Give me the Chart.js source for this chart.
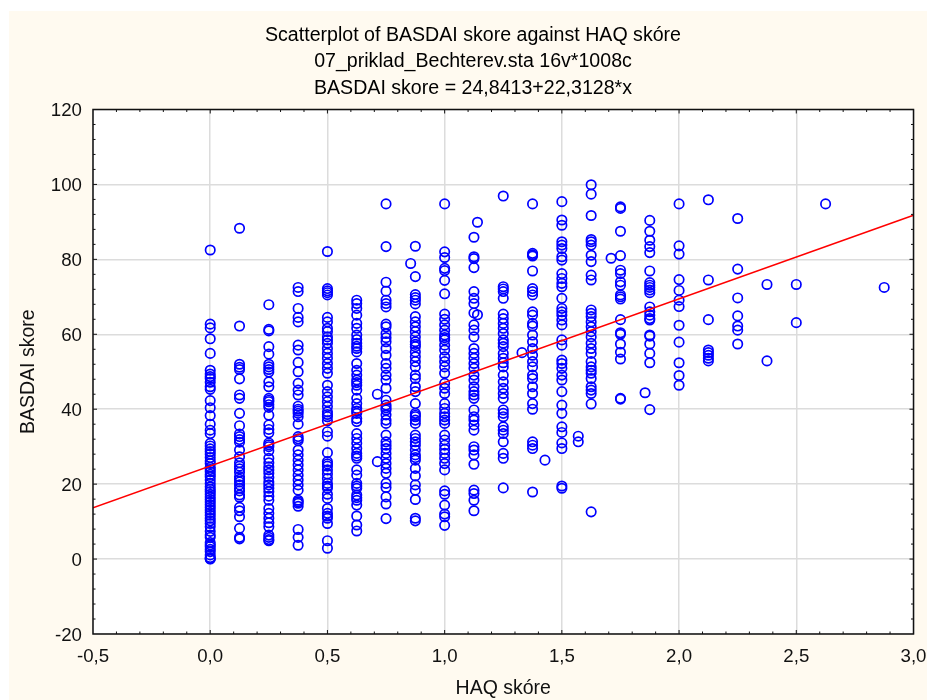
<!DOCTYPE html>
<html>
<head>
<meta charset="utf-8">
<title>Scatterplot of BASDAI skore against HAQ skóre</title>
<script src="https://cdn.jsdelivr.net/npm/chart.js@4"></script>
<style>
	html, body { margin: 0; padding: 0; background: #fff; }
	canvas { display: block; }
</style>
</head>
<body>
<canvas id="chart" width="927" height="700"></canvas>
<script>
const titleLines = [
	'Scatterplot of BASDAI skore against HAQ skóre',
	'07_priklad_Bechterev.sta 16v*1008c',
	'BASDAI skore = 24,8413+22,3128*x'
];

// BASDAI readings, one list per HAQ level
const haq0000 = [82.5,62.7,61.7,58.8,54.9,50.4,49.4,48.7,48.2,47.2,46,45.3,42.3,40.4,38.3,36,34.4,33.5,30.9,30.2,29.4,28.7,28,27.1,26.2,25.5,24.5,23.9,23.3,22.6,22,21.1,20.2,19.3,18.6,18,17.3,16.6,15.9,15.2,14.5,13.8,13.1,12.4,11.7,10.9,10.2,9.5,8.6,7.4,6.4,5.8,4.4,3.8,3.3,2.6,2,1.1,0.4,0.1,0];
const haq0125 = [88.3,62.2,52,51.2,50.6,48.1,43.8,42.9,38.9,35.6,33.4,32.7,31.9,31.2,29.1,27.3,25.7,24.8,24.1,23.2,22,21.3,20.6,19.8,18.9,18.2,17.1,16.5,13.8,12.9,11.3,8.2,5.8,5.4];
const haq0250 = [67.9,61.3,60.9,56.7,54.7,52,51.3,50.6,49.9,47.3,46,42.9,42.4,42,41.2,40.5,38.4,35.8,34.6,33.7,31,30.5,30,28.9,26.9,25.7,24.6,23.8,22.9,21.8,20.6,19.8,18.9,18,16.8,15.7,13.5,12.2,10.9,9.7,8.6,6.4,5.8,5.2,4.9];
const haq0375 = [72.5,71.4,66.9,64.5,63.3,57.1,55.8,52.5,50,46.9,45.1,43.8,40.8,40,39.5,38.9,38,36,32.7,32.1,31.6,29.1,27.8,26.4,25.1,23.8,22.4,21.1,19.8,18.4,15.7,15.3,14.9,14.1,7.9,5.8,3.7];
const haq0500 = [82.1,72.2,71.6,71.1,70.5,64.5,63.3,61.6,60.7,59.3,58.5,57.6,56.2,54.9,53.6,52.2,50.9,49.6,46.4,44.7,43.3,42,40.7,39.3,38.6,38,36.9,34,32.8,28.4,26,25.4,24.8,23.8,22.7,21.5,20.2,19.5,18.9,17.3,16.2,13.5,12.2,11.5,10.9,9.5,4.9,2.9];
const haq0625 = [69.1,68.2,66.9,65.1,62.9,61.6,59.8,58.6,57.6,56.8,56.2,55.3,52.2,50.4,49.1,47.8,47.1,46.4,45.1,42.9,41.5,40.2,39.5,38.9,37.5,36.7,33.5,32.2,30.9,29.5,28.2,27.5,26.9,23.8,22.4,20.2,19.5,18.9,17.1,16.4,15.7,14.4,11.5,9.1,7.5];
const haq0750 = [94.8,83.4,73.9,71.5,69.1,68.2,67.3,62.7,62,60.2,59.1,58,56.2,54.4,52.2,50.9,49.1,47.8,45.6,42.4,41.1,40.4,39.8,38.5,37.1,36.2,33.1,31.3,30.4,29.5,28.2,26.9,25.5,24.2,22.9,20.2,19.1,16.6,14.7,10.8];
const haq0875 = [83.5,75.4,70.6,69.8,69.1,68.1,64.7,63.3,62,60.7,59.3,58,57.3,56.7,55.3,54,52.7,51.3,49.1,48.2,46,44.7,41.5,38.9,38.4,38,37.1,36.2,33.1,32.2,31.3,30.4,29.1,27.8,27.1,26.4,24.2,22.2,19.8,18.4,15.9,10.9,10.2];
const haq1000 = [94.8,82,80.5,77.6,77,74.4,70.8,65.4,64,62.5,61.1,59.8,59.1,58.5,57.1,55.8,54,52.7,51.3,49.6,46.9,45.6,44.2,41.5,40.2,38.9,38,37.1,36.2,33.1,31.8,30.4,29.3,28.2,26.9,25.5,23.8,18.2,17.3,14.4,12,11.3,9];
const haq1125 = [85.9,80.7,80.2,77.8,71.4,69.6,68.2,65.7,62.5,61.1,59.3,56.2,54.9,53.6,52.2,50.9,49.1,47.8,46,44.7,43.8,42.9,39.8,38,37.1,35.8,34.4,30,29.1,27.8,25.3,18.4,17.5,15.7,12.9];
const haq1250 = [96.9,72.7,72.1,71.4,69.6,65.4,64.2,62.9,61.6,60.2,58.5,57.6,56.7,54.9,53.6,52.4,51.3,49.1,47.3,45.6,44.2,42.9,39.8,38.9,38,35.3,34.4,33.5,31.3,28.2,26.9,19];
const haq1375 = [94.8,81.6,81.2,80.9,76.9,72.2,71.4,70.5,66,65.1,62.9,62.2,59.8,58,56.2,54.4,52.7,51.3,49.1,48.2,46,44.2,41.5,40,31.3,30.4,29.5,17.9];
const haq1500 = [95.4,90.5,89.1,84.7,83.8,82.9,80.7,79.8,76.2,74.9,73.6,72.7,69.6,66.9,66,65.1,63.8,62.5,58.5,57.1,53.1,52.2,50.9,49.1,47.8,44.7,41.1,38.9,35.3,33.8,31,29.5,19.5,18.9];
const haq1625 = [99.9,97.4,91.7,85.3,84.7,83.8,81.1,79.4,75.8,74.5,66.5,65.6,64.7,63.3,62,60.7,59.3,57.6,56.2,54.9,52.7,51.3,50.4,49.6,48.2,46,45.1,44.2,41.4,12.6];
const haq1750 = [94,93.6,87.5,81,77.1,76.2,74,73.1,70.5,70,69.4,63.9,60.4,60,57.4,55.2,53.4,42.9,42.7];
const haq1875 = [90.4,87.5,85.1,83.4,81.8,76.9,73.8,73.1,72.5,71.8,71.1,67.3,66,65.1,64.2,63.8,59.8,59.5,57.4,54.9,52.4,39.9];
const haq2000 = [94.8,83.6,81.4,74.6,71.7,69.1,67.4,62.4,57.9,52.4,49,46.4];
const haq2125 = [95.9,74.5,63.9,55.8,55.1,54.4,53.6,52.9];
const haq2250 = [90.9,77.4,69.7,64.9,62.2,61.1,57.4];
const haq2375 = [73.3,52.9];
const haq2500 = [73.3,63.1];
const haq2625 = [94.8];
const haq2875 = [72.5];

const haqLevels = [0,0.125,0.25,0.375,0.5,0.625,0.75,0.875,1,1.125,1.25,1.375,1.5,1.625,1.75,1.875,2,2.125,2.25,2.375,2.5,2.625,2.875];
const haqColumns = [haq0000,haq0125,haq0250,haq0375,haq0500,haq0625,haq0750,haq0875,haq1000,haq1125,haq1250,haq1375,haq1500,haq1625,haq1750,haq1875,haq2000,haq2125,haq2250,haq2375,haq2500,haq2625,haq2875];

// the few cases that fall between the levels
const otherHaq = [0.713,0.713,0.855,1.14,1.14,1.33,1.428,1.57,1.57,1.71,1.855];
const otherBasdai = [44,26,78.9,89.9,65.2,55.1,26.4,32.8,31.3,80.3,44.4];

const fitHaq = [-0.5,3];
const fitBasdai = [13.685,91.78];

const xMinorTicks = [-0.4,-0.3,-0.2,-0.1,0,0.1,0.2,0.3,0.4,0.5,0.6,0.7,0.8,0.9,1,1.1,1.2,1.3,1.4,1.5,1.6,1.7,1.8,1.9,2,2.1,2.2,2.3,2.4,2.5,2.6,2.7,2.8,2.9];
const yMinorTicks = [-16,-12,-8,-4,0,4,8,12,16,20,24,28,32,36,40,44,48,52,56,60,64,68,72,76,80,84,88,92,96,100,104,108,112,116];

const fontFamily = '"Liberation Sans", Arial, sans-serif';
const tickFont = { family: fontFamily, size: 18.67 };
const labelFont = { family: fontFamily, size: 19.5, lineHeight: 1 };
const inkColor = '#111';

// cream panel, white plot, frame and the small inner ticks
const framePlugin = {
	id: 'frame',
	beforeDraw(chart) {
		const ctx = chart.ctx;
		const area = chart.chartArea;
		ctx.save();
		ctx.fillStyle = '#fffaf0';
		ctx.fillRect(9, 11, chart.width - 9, chart.height - 11);
		ctx.fillStyle = '#fff';
		ctx.fillRect(area.left, area.top, area.right - area.left, area.bottom - area.top);
		ctx.restore();
	},
	afterDraw(chart) {
		const ctx = chart.ctx;
		const area = chart.chartArea;
		const xScale = chart.scales.x;
		const yScale = chart.scales.y;
		ctx.save();
		ctx.strokeStyle = inkColor;
		ctx.lineWidth = 1.5;
		ctx.strokeRect(area.left, area.top, area.right - area.left, area.bottom - area.top);
		ctx.lineWidth = 1;
		ctx.beginPath();
		xMinorTicks.forEach((value) => {
			const len = Number.isInteger(value * 2) ? 4 : 2.5;
			const px = xScale.getPixelForValue(value);
			ctx.moveTo(px, area.bottom);
			ctx.lineTo(px, area.bottom - len);
			ctx.moveTo(px, area.top);
			ctx.lineTo(px, area.top + len);
		});
		yMinorTicks.forEach((value) => {
			const len = value % 20 === 0 ? 4 : 2.5;
			const py = yScale.getPixelForValue(value);
			ctx.moveTo(area.left, py);
			ctx.lineTo(area.left + len, py);
			ctx.moveTo(area.right, py);
			ctx.lineTo(area.right - len, py);
		});
		ctx.stroke();
		ctx.restore();
	}
};

const scatterPoints = haqLevels.flatMap((haq, i) => haqColumns[i].map((basdai) => ({ x: haq, y: basdai })));
otherHaq.forEach((haq, i) => scatterPoints.push({ x: haq, y: otherBasdai[i] }));

new Chart(document.getElementById('chart'), {
	type: 'scatter',
	plugins: [framePlugin],
	data: {
		datasets: [
			{
				data: fitHaq.map((haq, i) => ({ x: haq, y: fitBasdai[i] })),
				showLine: true,
				borderColor: '#ff0000',
				borderWidth: 1.5,
				pointRadius: 0
			},
			{
				data: scatterPoints,
				pointStyle: 'circle',
				pointRadius: 4.7,
				pointBorderWidth: 1.7,
				pointBorderColor: '#0000ff',
				pointBackgroundColor: 'rgba(0,0,0,0)'
			}
		]
	},
	options: {
		responsive: false,
		animation: false,
		layout: {
			autoPadding: false,
			padding: { left: 19, right: 0, top: 0, bottom: 0 }
		},
		plugins: {
			legend: { display: false },
			tooltip: { enabled: false },
			title: {
				display: true,
				text: titleLines,
				color: '#000',
				font: { family: fontFamily, size: 19.6, weight: 'normal', lineHeight: 1.34 },
				padding: { top: 22.5, bottom: 8.2 }
			}
		},
		scales: {
			x: {
				type: 'linear',
				min: -0.5,
				max: 3,
				afterFit(scale) {
					scale.height = 66;
					scale.paddingLeft = 0;
					scale.paddingRight = 13.5;
				},
				grid: { color: '#dcdcdc', lineWidth: 1.5, drawTicks: false },
				border: { display: false },
				ticks: {
					stepSize: 0.5,
					maxRotation: 0,
					color: inkColor,
					font: tickFont,
					padding: 12,
					callback: (value) => value.toFixed(1).replace('.', ',')
				},
				title: {
					display: true,
					text: 'HAQ skóre',
					color: inkColor,
					font: labelFont,
					padding: { top: 0, bottom: 2 }
				}
			},
			y: {
				min: -20,
				max: 120,
				afterFit(scale) { scale.width = 74; },
				grid: { color: '#dcdcdc', lineWidth: 1.5, drawTicks: false },
				border: { display: false },
				ticks: {
					stepSize: 20,
					color: inkColor,
					font: tickFont,
					padding: 11,
					labelOffset: 1.5
				},
				title: {
					display: true,
					text: 'BASDAI skore',
					color: inkColor,
					font: labelFont,
					padding: 0
				}
			}
		}
	}
});
</script>
</body>
</html>
